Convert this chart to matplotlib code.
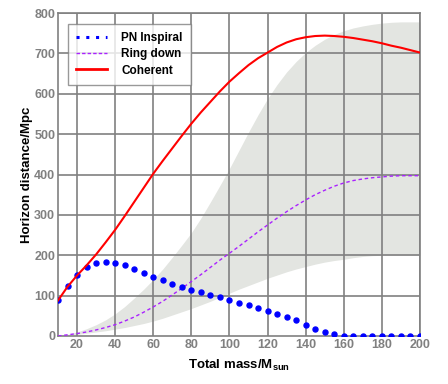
import numpy as np
import matplotlib
matplotlib.use("Agg")
import matplotlib.pyplot as plt
from matplotlib.lines import Line2D

plt.rcParams['font.family'] = ['Liberation Sans', 'DejaVu Sans']

# PN inspiral (dots)
pn_mass = list(range(10, 201, 5))
pn_dist = [90, 124, 150, 170, 181, 184, 181, 175, 166, 157, 147, 139, 130, 122,
           115, 108, 101, 96, 88, 82, 76, 69, 63, 55, 47, 39, 28, 17, 9, 4,
           1, 1, 1, 1, 1, 1, 1, 1, 1]

# Ring down (dashed)
rd_mass = list(range(10, 201, 5))
rd_dist = [0, 3, 6, 10, 15, 21, 28, 37, 47, 59, 72, 86, 102, 118, 135, 152, 170, 188,
           205, 222, 240, 258, 275, 292, 308, 323, 337, 350, 361, 371, 379, 385, 389,
           392, 394, 396, 397, 397, 397]

# Coherent (solid)
co_mass = list(range(10, 201, 5))
co_dist = [88, 122, 150, 175, 202, 232, 263, 297, 332, 367, 402, 434, 465, 496, 526,
           554, 580, 606, 630, 651, 671, 688, 702, 716, 727, 735, 740, 743, 744, 743,
           741, 738, 734, 730, 725, 719, 714, 708, 702]

# Grey band
band_mass = list(range(10, 201, 5))
band_low = [0, 2, 4, 7, 10, 13, 17, 21, 26, 31, 37, 44, 52, 60, 68, 77, 86, 96, 106,
            116, 125, 134, 143, 151, 159, 166, 172, 178, 183, 187, 190, 194, 197, 199,
            200, 200, 200, 200, 200]
band_high = [0, 4, 10, 18, 28, 40, 55, 73, 94, 116, 140, 166, 195, 225, 256, 292, 332,
             373, 415, 460, 505, 548, 588, 623, 654, 680, 702, 720, 735, 747, 756, 763,
             768, 772, 775, 777, 778, 778, 778]

xticks = [20, 40, 60, 80, 100, 120, 140, 160, 180, 200]
yticks = [0, 100, 200, 300, 400, 500, 600, 700, 800]

fig = plt.figure(figsize=(4.48, 3.84), dpi=100)
ax = fig.add_axes([58/448, 48/384, 362/448, 323/384])

ax.fill_between(band_mass, band_low, band_high, color='#e3e5e1', lw=0, zorder=1)

for x in xticks:
    ax.axvline(x, color='#808080', lw=1.2, zorder=2)
for y in yticks[1:]:
    ax.axhline(y, color='#808080', lw=1.2, zorder=2)

ax.plot(pn_mass, pn_dist, ls='none', marker='o', ms=3.6, color='#0000ff', zorder=4)
ax.plot(rd_mass, rd_dist, ls=(0, (2.5, 2)), lw=1.0, color='#aa22ff', zorder=3)
ax.plot(co_mass, co_dist, ls='-', lw=1.5, color='#ff0000', zorder=5)

ax.set_xlim(10, 200)
ax.set_ylim(0, 800)
ax.set_xticks(xticks)
ax.set_yticks(yticks)
ax.tick_params(length=0, labelsize=9, labelcolor='#808080', pad=2)
for lab in ax.get_xticklabels() + ax.get_yticklabels():
    lab.set_fontweight('bold')
for s in ax.spines.values():
    s.set_color('#808080')
    s.set_linewidth(1.2)

ax.set_xlabel(r'Total mass/M$_{\mathregular{sun}}$', fontsize=9.5, fontweight='bold', labelpad=5)
ax.set_ylabel('Horizon distance/Mpc', fontsize=9.5, fontweight='bold', labelpad=1)

handles = [Line2D([], [], ls=(0, (1, 2.2)), lw=2.2, color='#0000ff'),
           Line2D([], [], ls=(0, (2.5, 1.5)), lw=1.0, color='#aa22ff'),
           Line2D([], [], ls='-', lw=2.0, color='#ff0000')]
leg = ax.legend(handles, ['PN Inspiral', 'Ring down', 'Coherent'],
                loc='upper left', bbox_to_anchor=(10/362, 1 - 11/323),
                frameon=True, fancybox=False, edgecolor='#808080',
                prop={'size': 8.5, 'weight': 'bold'}, handlelength=2.6,
                borderpad=0.7, labelspacing=0.35, handletextpad=1.2, borderaxespad=0)
leg.get_frame().set_linewidth(1.0)
leg.set_zorder(10)

fig.savefig('out.png', dpi=100)
